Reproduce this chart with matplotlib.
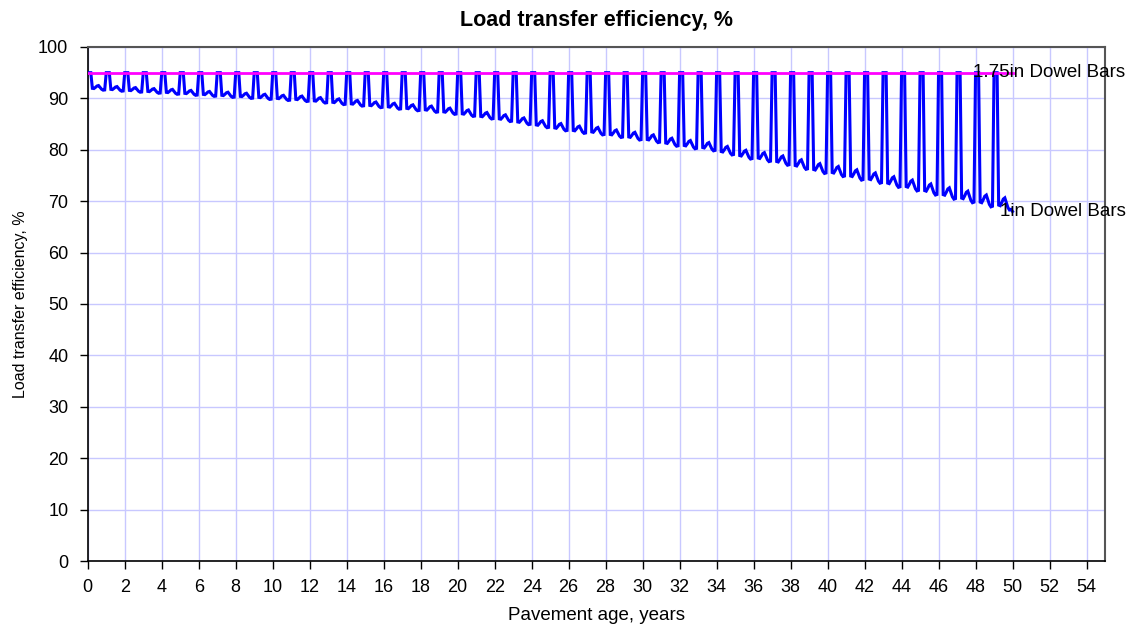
import numpy as np
import matplotlib
matplotlib.use("Agg")
import matplotlib.pyplot as plt

plt.rcParams['font.family'] = ['Liberation Sans', 'DejaVu Sans']

# ---- data ----
# yearly lower envelope (value just before each annual rise), 1in dowel bars
low_1in = [91.6, 91.4, 91.2, 91.0, 90.8, 90.6, 90.4, 90.2, 90.0, 89.8,
           89.6, 89.4, 89.1, 88.8, 88.5, 88.2, 87.9, 87.6, 87.3, 86.9,
           86.5, 86.0, 85.5, 84.9, 84.3, 83.7, 83.2, 82.9, 82.4, 81.9,
           81.4, 80.7, 80.2, 79.8, 79.0, 78.2, 77.7, 77.0, 76.2, 75.4,
           74.8, 74.1, 73.5, 72.7, 72.0, 71.2, 70.4, 69.7, 68.9, 68.3]
# height of the mid-year bump above the lower envelope
bump_1in = [0.9, 0.9, 0.9, 0.9, 0.95, 0.95, 0.95, 1.0, 1.0, 1.0,
            1.0, 1.05, 1.05, 1.1, 1.1, 1.1, 1.15, 1.15, 1.2, 1.2,
            1.25, 1.25, 1.3, 1.3, 1.35, 1.4, 1.4, 1.45, 1.45, 1.5,
            1.5, 1.55, 1.6, 1.6, 1.65, 1.7, 1.75, 1.8, 1.85, 1.9,
            1.95, 2.0, 2.0, 2.05, 2.1, 2.15, 2.2, 2.25, 2.3, 2.35]
# monthly shape within one year (fraction of bump above envelope; None = capped at 95)
month_shape = [None, None, None, 0.40, 0.35, 0.60, 0.90, 1.00, 0.60, 0.20, 0.00, 0.05]
cap_value = 95.0
lte_175in = 95.0

series_labels = ["1.75in Dowel Bars", "1in Dowel Bars"]
x_ticks = list(range(0, 55, 2))
y_ticks = list(range(0, 101, 10))

# ---- build monthly series ----
t, v = [], []
for yr, (b, a) in enumerate(zip(low_1in, bump_1in)):
    for m, s in enumerate(month_shape):
        t.append(yr + m / 12.0)
        v.append(cap_value if s is None else b + s * a)
t.append(50.0)
v.append(low_1in[-1] - 0.3)
t = np.array(t)
v = np.array(v)

fig = plt.figure(figsize=(11.38, 6.29), dpi=100)
ax = fig.add_axes([0.0771, 0.1081, 0.9710 - 0.0771, 0.9253 - 0.1081])

ax.plot(t, v, color='#0000ff', lw=2.2, solid_joinstyle='miter', zorder=3)
ax.plot([0, 50], [lte_175in, lte_175in], color='#ff00ff', lw=2.0, zorder=4)

ax.set_xlim(0, 55)
ax.set_ylim(0, 100)
ax.set_xticks(x_ticks)
ax.set_yticks(y_ticks)
ax.grid(True, color='#c8c8ff', lw=1.0)
ax.set_axisbelow(True)
ax.tick_params(direction='out', length=6, width=1, labelsize=13, colors='black')
ax.tick_params(axis='x', pad=7)
ax.tick_params(axis='y', pad=8)
for s in ['left', 'bottom']:
    ax.spines[s].set_color('black')
    ax.spines[s].set_linewidth(1.2)
for s in ['top', 'right']:
    ax.spines[s].set_color('#555555')
    ax.spines[s].set_linewidth(1.5)

ax.set_title("Load transfer efficiency, %", fontsize=15.5, fontweight='bold', pad=15)
ax.set_xlabel("Pavement age, years", fontsize=13.5, labelpad=8)
ax.set_ylabel("Load transfer efficiency, %", fontsize=11.5, labelpad=7)

ax.text(47.85, lte_175in, series_labels[0], fontsize=13.5, ha='left', va='center', zorder=5)
ax.text(49.3, 68.0, series_labels[1], fontsize=13.5, ha='left', va='center', zorder=5)

fig.savefig("out.png", dpi=100)
